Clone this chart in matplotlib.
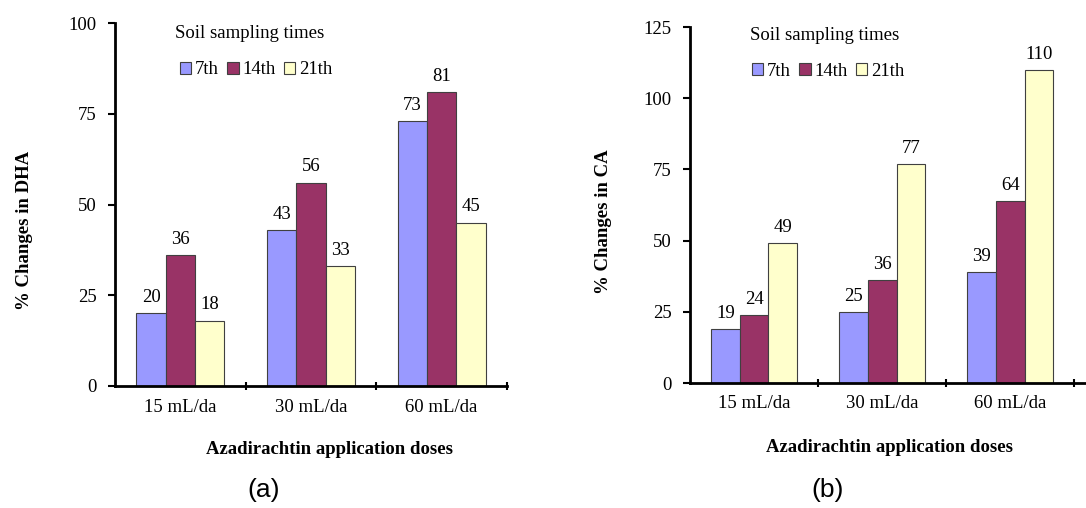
import matplotlib.pyplot as plt
import numpy as np

doses = ['15 mL/da', '30 mL/da', '60 mL/da']
times = ['7th', '14th', '21th']
colors = ['#9999FF', '#993366', '#FFFFCC']

dha_7 = [20, 43, 73]
dha_14 = [36, 56, 81]
dha_21 = [18, 33, 45]

ca_7 = [19, 25, 39]
ca_14 = [24, 36, 64]
ca_21 = [49, 77, 110]

plt.rcParams['font.family'] = ['Liberation Serif', 'DejaVu Serif']

W, H = 1086, 508
fig = plt.figure(figsize=(W / 100, H / 100), dpi=100)
ax_a = fig.add_axes([115 / W, 1 - 386 / H, 392 / W, 363 / H])
ax_b = fig.add_axes([690 / W, 1 - 383 / H, 396 / W, 356 / H])

FS = 13.5


def draw_panel(ax, series, ymax, xmax):
    x = np.arange(len(doses))
    w = 0.224
    for i, (vals, c, name) in enumerate(zip(series, colors, times)):
        bars = ax.bar(x + (i - 1) * w, vals, w, color=c, edgecolor='#404040',
                      linewidth=0.8, label=name)
        for b, v in zip(bars, vals):
            ax.text(b.get_x() + b.get_width() / 2, v + ymax * 0.02, str(v),
                    ha='center', va='bottom', fontsize=FS)
    ax.set_xlim(-0.5, xmax)
    ax.set_ylim(0, ymax)
    ax.set_yticks(np.arange(0, ymax + 1, 25))
    ax.set_xticks(x)
    ax.set_xticklabels(doses, fontsize=FS)
    ax.set_xticks([0.5, 1.5, 2.5], minor=True)
    ax.tick_params(axis='x', which='major', length=0, pad=9)
    ax.tick_params(axis='x', which='minor', length=6, width=1.5, direction='inout')
    ax.tick_params(axis='y', length=5, width=1.5, labelsize=FS, pad=8)
    for s in ['top', 'right']:
        ax.spines[s].set_visible(False)
    for s in ['left', 'bottom']:
        ax.spines[s].set_linewidth(2)


def add_legend(ax, title_xy, entries_xy):
    fig.text(title_xy[0] / W, 1 - title_xy[1] / H, 'Soil sampling times',
             ha='left', va='center', fontsize=FS)
    ax.legend(loc='center left', bbox_to_anchor=(entries_xy[0] / W, 1 - entries_xy[1] / H),
              bbox_transform=fig.transFigure, ncol=3, frameon=False, fontsize=FS,
              handlelength=0.6, handleheight=0.6, handletextpad=0.2,
              columnspacing=0.45, borderpad=0, borderaxespad=0)


draw_panel(ax_a, [dha_7, dha_14, dha_21], 100, 2.5)
draw_panel(ax_b, [ca_7, ca_14, ca_21], 125, 2.59)
add_legend(ax_a, (175, 33), (180, 70))
add_legend(ax_b, (750, 36), (752, 71))

fig.text(25 / W, 1 - 230 / H, '% Changes in DHA', rotation=90, ha='center', va='center',
         fontsize=13.5, fontweight='bold')
fig.text(603 / W, 1 - 222 / H, '% Changes in CA', rotation=90, ha='center', va='center',
         fontsize=13.5, fontweight='bold')
fig.text(330 / W, 1 - 450 / H, 'Azadirachtin application doses', ha='center', va='center',
         fontsize=FS, fontweight='bold')
fig.text(890 / W, 1 - 447 / H, 'Azadirachtin application doses', ha='center', va='center',
         fontsize=FS, fontweight='bold')

fig.text(264 / W, 1 - 490 / H, '(a)', ha='center', va='center', fontsize=19,
         family=['Liberation Sans', 'DejaVu Sans'])
fig.text(828 / W, 1 - 490 / H, '(b)', ha='center', va='center', fontsize=19,
         family=['Liberation Sans', 'DejaVu Sans'])

fig.savefig('out.png', dpi=100)
